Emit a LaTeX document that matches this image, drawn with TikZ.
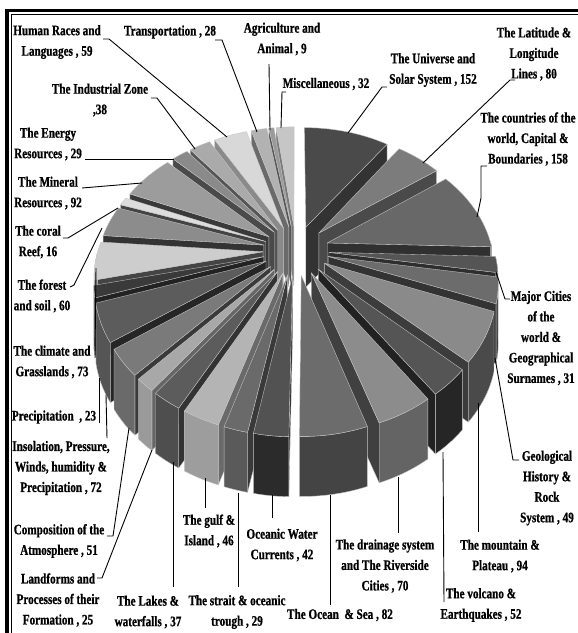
\documentclass[tikz,border=0pt]{standalone}
\usepackage{fontspec}
\newfontfamily\lblfont{Liberation Serif Bold}[FakeStretch=0.77,FakeBold=0.8]
\def\pcx{296}\def\pcy{250}\def\pR{165}\def\pe{33}\def\pk{0.00104}\def\psf{0.75}\def\pT{60}
\tikzset{
  declare function={PX(\u,\v)=\pcx+\u/(1+\v*\pk); PY(\u,\v)=\pcy-\v*\psf/(1+\v*\pk);},
  pedge/.style={draw=white!78!black,line width=0.35pt,line join=round},
  lbl/.style={font=\lblfont\fontsize{14.5}{20.5}\selectfont,align=center,inner sep=0pt},
  leader/.style={draw=black,line width=0.9pt}
}
\newcommand\pslice[5]{%
  \definecolor{ptop}{HTML}{#3#3#3}\definecolor{pout}{HTML}{#4#4#4}\definecolor{prad}{HTML}{#5#5#5}%
  \pgfmathsetmacro\pbis{(#1+#2)/2}%
  \pgfmathsetmacro\pox{\pe*sin(\pbis)}%
  \pgfmathsetmacro\poy{\pe*cos(\pbis)}%
  \coordinate (T0) at ({PX(\pox,\poy)},{PY(\pox,\poy)});%
  \coordinate (T1) at ({PX(\pox,\poy)},{PY(\pox,\poy)+\pT});%
  \ifdim #2pt<180pt
    \pgfmathsetmacro\prx{\pox+\pR*sin(#2)}%
    \pgfmathsetmacro\pry{\poy+\pR*cos(#2)}%
    \filldraw[fill=prad,pedge] (T0) -- ({PX(\prx,\pry)},{PY(\prx,\pry)}) -- ({PX(\prx,\pry)},{PY(\prx,\pry)+\pT}) -- (T1) -- cycle;
  \fi
  \ifdim #1pt>180pt
    \pgfmathsetmacro\prx{\pox+\pR*sin(#1)}%
    \pgfmathsetmacro\pry{\poy+\pR*cos(#1)}%
    \filldraw[fill=prad,pedge] (T0) -- ({PX(\prx,\pry)},{PY(\prx,\pry)}) -- ({PX(\prx,\pry)},{PY(\prx,\pry)+\pT}) -- (T1) -- cycle;
  \fi
  \pgfmathsetmacro\pla{max(#1,90)}%
  \pgfmathsetmacro\plb{min(#2,270)}%
  \ifdim \pla pt<\plb pt
    \pgfmathtruncatemacro\pns{max(3,(\plb-\pla)/1.5+2)}%
    \filldraw[fill=pout,pedge] plot[domain=\pla:\plb,samples=\pns,variable=\t] ({PX(\pox+\pR*sin(\t),\poy+\pR*cos(\t))},{PY(\pox+\pR*sin(\t),\poy+\pR*cos(\t))}) -- plot[domain=\plb:\pla,samples=\pns,variable=\t] ({PX(\pox+\pR*sin(\t),\poy+\pR*cos(\t))},{PY(\pox+\pR*sin(\t),\poy+\pR*cos(\t))+\pT}) -- cycle;
  \fi
  \pgfmathtruncatemacro\pns{max(3,(#2-#1)/1.5+2)}%
  \filldraw[fill=ptop,pedge] (T0) -- plot[domain=#1:#2,samples=\pns,variable=\t] ({PX(\pox+\pR*sin(\t),\poy+\pR*cos(\t))},{PY(\pox+\pR*sin(\t),\poy+\pR*cos(\t))}) -- cycle;
}
\begin{document}
\begin{tikzpicture}[x=1pt,y=-1pt]
\useasboundingbox (0,0) rectangle (578,633);
\fill[white] (0,0) rectangle (578,633);
% frame
\draw[line width=3.5pt] (7,633) -- (7,10.5) -- (578,10.5);
\draw[line width=0.6pt] (10.8,633) -- (10.8,14) -- (578,14);
% pie slices, back to front
\pslice{352.47}{360}{C6}{A0}{7A}
\pslice{350.35}{352.47}{9A}{80}{55}
\pslice{343.75}{350.35}{B2}{90}{6A}
\pslice{0}{35.79}{4A}{3A}{33}
\pslice{329.86}{343.75}{D8}{B0}{8A}
\pslice{320.92}{329.86}{AA}{88}{55}
\pslice{314.09}{320.92}{8A}{70}{4A}
\pslice{35.79}{54.62}{7C}{60}{4A}
\pslice{292.43}{314.09}{9C}{80}{3A}
\pslice{288.66}{292.43}{DD}{B0}{44}
\pslice{54.62}{91.82}{68}{55}{30}
\pslice{274.53}{288.66}{8C}{70}{33}
\pslice{257.34}{274.53}{CD}{A0}{44}
\pslice{91.82}{99.12}{55}{44}{2E}
\pslice{99.12}{110.66}{6C}{3A}{33}
\pslice{251.93}{257.34}{3A}{2E}{22}
\pslice{234.98}{251.93}{5C}{55}{26}
\pslice{110.66}{132.79}{8A}{4A}{3C}
\pslice{222.97}{234.98}{7A}{6A}{3A}
\pslice{132.79}{145.04}{55}{26}{22}
\pslice{217.08}{222.97}{A8}{9A}{66}
\pslice{208.37}{217.08}{5C}{4E}{33}
\pslice{145.04}{161.52}{8C}{64}{40}
\pslice{197.54}{208.37}{B4}{9D}{6A}
\pslice{190.71}{197.54}{6A}{5A}{3A}
\pslice{161.52}{180.82}{6C}{44}{33}
\pslice{180.82}{190.71}{52}{2B}{22}
% labels
\node[lbl] (human) at (57,42) {Human Races and\\Languages , 59};
\node[lbl] (transp) at (170,32) {Transportation , 28};
\node[lbl] (agri) at (282,39) {Agriculture and\\Animal , 9};
\node[lbl] (misc) at (326,84) {Miscellaneous , 32};
\node[lbl] (univ) at (433,70) {The Universe and\\Solar System , 152};
\node[lbl] (lat) at (534,54) {The Latitude \&\\Longitude\\Lines , 80};
\node[lbl] (countries) at (528,139) {The countries of the\\world, Capital \&\\Boundaries , 158};
\node[lbl] (major) at (541,338) {Major Cities\\of the\\world \&\\Geographical\\Surnames , 31};
\node[lbl] (geo) at (547,488) {Geological\\History \&\\Rock\\System , 49};
\node[lbl] (mount) at (500,556) {The mountain \&\\Plateau , 94};
\node[lbl] (volc) at (481,605) {The volcano \&\\Earthquakes , 52};
\node[lbl] (drain) at (385,566) {The drainage system\\and The Riverside\\Cities , 70};
\node[lbl] (ocean) at (340,615) {The Ocean \ \& Sea , 82};
\node[lbl] (curr) at (282,545) {Oceanic Water\\Currents , 42};
\node[lbl] (gulf) at (209,531) {The gulf \&\\Island , 46};
\node[lbl] (strait) at (237,612) {The strait \& oceanic\\trough , 29};
\node[lbl] (lakes) at (148,612) {The Lakes \&\\waterfalls , 37};
\node[lbl] (landf) at (58,600) {Landforms and\\Processes of their\\Formation , 25};
\node[lbl] (comp) at (59,541) {Composition of the\\Atmosphere , 51};
\node[lbl] (insol) at (61,468) {Insolation, Pressure,\\Winds, humidity \&\\Precipitation , 72};
\node[lbl] (precip) at (54,417) {Precipitation \ , 23};
\node[lbl] (climate) at (52,362) {The climate and\\Grasslands , 73};
\node[lbl] (forest) at (42,296) {The forest\\and soil , 60};
\node[lbl] (coral) at (38,242) {The coral\\Reef, 16};
\node[lbl] (mineral) at (48,193) {The Mineral\\Resources , 92};
\node[lbl] (energy) at (48,144) {The Energy\\Resources , 29};
\node[lbl] (indus) at (100,100) {The Industrial Zone\\,38};
% leader end points
\coordinate (eHuman) at (227,137);
\coordinate (eTransp) at (257,132);
\coordinate (eAgri) at (270,130);
\coordinate (eMisc) at (281,128);
\coordinate (eUniv) at (348,133);
\coordinate (eLat) at (423,163);
\coordinate (eCountries) at (477,217);
\coordinate (eMajor) at (496,272);
\coordinate (eGeo) at (495,358);
\coordinate (eMount) at (478,403);
\coordinate (eVolc) at (443,452);
\coordinate (eDrain) at (398,477);
\coordinate (eOcean) at (330,495);
\coordinate (eCurr) at (272,495);
\coordinate (eGulf) at (205,478);
\coordinate (eStrait) at (238,493);
\coordinate (eLakes) at (173,462);
\coordinate (eLandf) at (152,450);
\coordinate (eComp) at (129,428);
\coordinate (eInsol) at (106,395);
\coordinate (ePrecip) at (99,378);
\coordinate (eClimate) at (96,268);
\coordinate (eForest) at (102,228);
\coordinate (eCoral) at (118,208);
\coordinate (eMineral) at (142,183);
\coordinate (eEnergy) at (174,159);
\coordinate (eIndus) at (195,149);
% leaders
\draw[leader] (103,39) -- (109,39) -- (eHuman);
\draw[leader] (215,40) -- (222,40) -- (eTransp);
\draw[leader] (269,64) -- (eAgri);
\draw[leader] (286,92) -- (282,92) -- (eMisc);
\draw[leader] (387,87) -- (382,87) -- (eUniv);
\draw[leader] (515,80) -- (510,80) -- (eLat);
\draw[leader] (487,166) -- (481,166) -- (481,198) -- (eCountries);
\draw[leader] (510,299) -- (505,299) -- (eMajor);
\draw[leader] (519,460) -- (513,460) -- (eGeo);
\draw[leader] (478,532) -- (eMount);
\draw[leader] (444,602) -- (eVolc);
\draw[leader] (398,533) -- (eDrain);
\draw[leader] (330,605) -- (eOcean);
\draw[leader] (272,518) -- (eCurr);
\draw[leader] (205,508) -- (eGulf);
\draw[leader] (238,587) -- (eStrait);
\draw[leader] (173,587) -- (eLakes);
\draw[leader] (97,578) -- (102,578) -- (eLandf);
\draw[leader] (107,536) -- (113,536) -- (eComp);
\draw[leader] (107,438) -- (eInsol);
\draw[leader] (99,423) -- (ePrecip);
\draw[leader] (95,355) -- (eClimate);
\draw[leader] (70,287) -- (74,285) -- (eForest);
\draw[leader] (63,238) -- (68,238) -- (eCoral);
\draw[leader] (82,188) -- (eMineral);
\draw[leader] (85,159) -- (eEnergy);
\draw[leader] (151,98) -- (157,98) -- (eIndus);
\end{tikzpicture}
\end{document}
